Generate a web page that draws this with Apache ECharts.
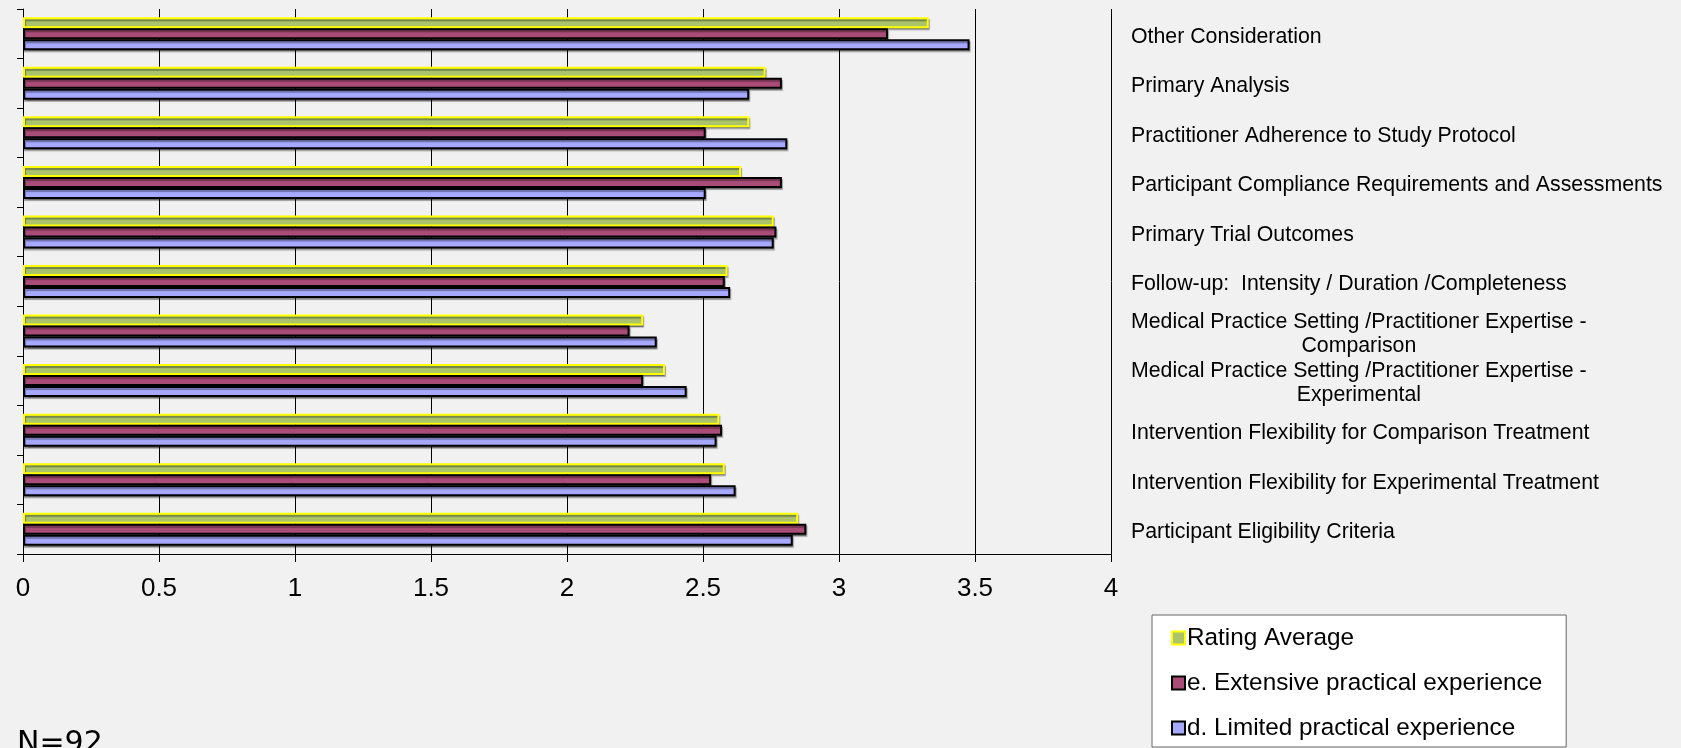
<!DOCTYPE html>
<html>
<head>
<meta charset="utf-8">
<script src="https://cdn.jsdelivr.net/npm/echarts@6/dist/echarts.min.js"></script>
<style>
html,body{margin:0;padding:0;background:#f1f1f1;}
#chart{width:1681px;height:748px;}
</style>
</head>
<body>
<div id="chart"></div>
<script>
// Categories listed bottom -> top (as drawn on the category axis)
const categories = [
  'Participant Eligibility Criteria',
  'Intervention Flexibility for Experimental Treatment',
  'Intervention Flexibility for Comparison Treatment',
  'Medical Practice Setting /Practitioner Expertise -\nExperimental',
  'Medical Practice Setting /Practitioner Expertise -\nComparison',
  'Follow-up:  Intensity / Duration /Completeness',
  'Primary Trial Outcomes',
  'Participant Compliance Requirements and Assessments',
  'Practitioner Adherence to Study Protocol',
  'Primary Analysis',
  'Other Consideration'
];
const seriesNames = ['Rating Average', 'e. Extensive practical experience', 'd. Limited practical experience'];
const ratingAverage = [2.85, 2.58, 2.56, 2.36, 2.28, 2.59, 2.76, 2.64, 2.67, 2.73, 3.33];
const extensive     = [2.88, 2.53, 2.57, 2.28, 2.23, 2.58, 2.77, 2.79, 2.51, 2.79, 3.18];
const limited       = [2.83, 2.62, 2.55, 2.44, 2.33, 2.60, 2.76, 2.51, 2.81, 2.67, 3.48];
const xTickLabels = ['0', '0.5', '1', '1.5', '2', '2.5', '3', '3.5', '4'];
const noteText = 'N=92';

const FONT = '"Liberation Sans", Arial, sans-serif';
const styles = [
  {color: '#abc46c', borderColor: '#ffff00'},
  {color: '#aa4c78', borderColor: '#000000'},
  {color: '#a6a9ff', borderColor: '#000000'}
];
const values = [ratingAverage, extensive, limited];

const chart = echarts.init(document.getElementById('chart'), null, {renderer: 'canvas'});

function catLabel(v) {
  const parts = v.split('\n');
  if (parts.length === 1) return '{a|' + parts[0] + '}';
  return '{a|' + parts[0] + '}\n{b|' + parts[1] + '}';
}

chart.setOption({
  backgroundColor: '#f1f1f1',
  animation: false,
  grid: {left: 23, top: 9, width: 1088, height: 545, containLabel: false},
  xAxis: {
    type: 'value', min: 0, max: 4, interval: 0.5,
    axisLine: {show: true, lineStyle: {color: '#000', width: 1}},
    axisTick: {show: true, length: 8, lineStyle: {color: '#000'}},
    axisLabel: {
      fontFamily: FONT, fontSize: 26, color: '#000', margin: 22,
      formatter: function (v) { return xTickLabels[Math.round(v / 0.5)]; }
    },
    splitLine: {show: true, lineStyle: {color: '#000', width: 1}}
  },
  yAxis: [
    {
      type: 'category', data: categories, position: 'left',
      axisLine: {show: true, onZero: false, lineStyle: {color: '#000'}},
      axisTick: {show: true, length: 6, lineStyle: {color: '#000'}},
      axisLabel: {show: false},
      splitLine: {show: false}
    },
    {
      type: 'category', data: categories, position: 'right',
      axisLine: {show: false}, axisTick: {show: false},
      axisLabel: {
        show: true, align: 'left', margin: 20, color: '#000',
        fontFamily: FONT, fontSize: 21.3,
        padding: [6, 0, 0, 0],
        formatter: catLabel,
        rich: {
          a: {fontFamily: FONT, fontSize: 21.3, color: '#000', lineHeight: 24},
          b: {fontFamily: FONT, fontSize: 21.3, color: '#000', lineHeight: 24, align: 'center'}
        }
      },
      splitLine: {show: false}
    }
  ],
  legend: {
    orient: 'vertical', left: 1152, top: 615,
    backgroundColor: '#ffffff', borderColor: '#666', borderWidth: 1,
    padding: [11, 24, 7, 19],
    itemWidth: 13, itemHeight: 13, itemGap: 21,
    icon: 'rect',
    textStyle: {fontFamily: FONT, fontSize: 24.3, color: '#000', padding: [0, 0, 0, -3]},
    data: seriesNames.map((n, i) => ({
      name: n,
      itemStyle: {color: styles[i].color, borderColor: styles[i].borderColor, borderWidth: 2}
    }))
  },
  graphic: [
    {type: 'text', left: 17, top: 729, style: {text: noteText, font: '30px "DejaVu Sans", sans-serif', fill: '#000'}}
  ],
  series: seriesNames.map((n, i) => ({
    name: n, type: 'bar', yAxisIndex: 0,
    data: values[i],
    barWidth: 11, barGap: '0%',
    itemStyle: {
      color: styles[i].color, borderColor: styles[i].borderColor, borderWidth: 2,
      shadowColor: 'rgba(0,0,0,0.35)', shadowBlur: 1, shadowOffsetX: 1, shadowOffsetY: 2
    },
    emphasis: {disabled: true}
  }))
});
</script>
</body>
</html>
